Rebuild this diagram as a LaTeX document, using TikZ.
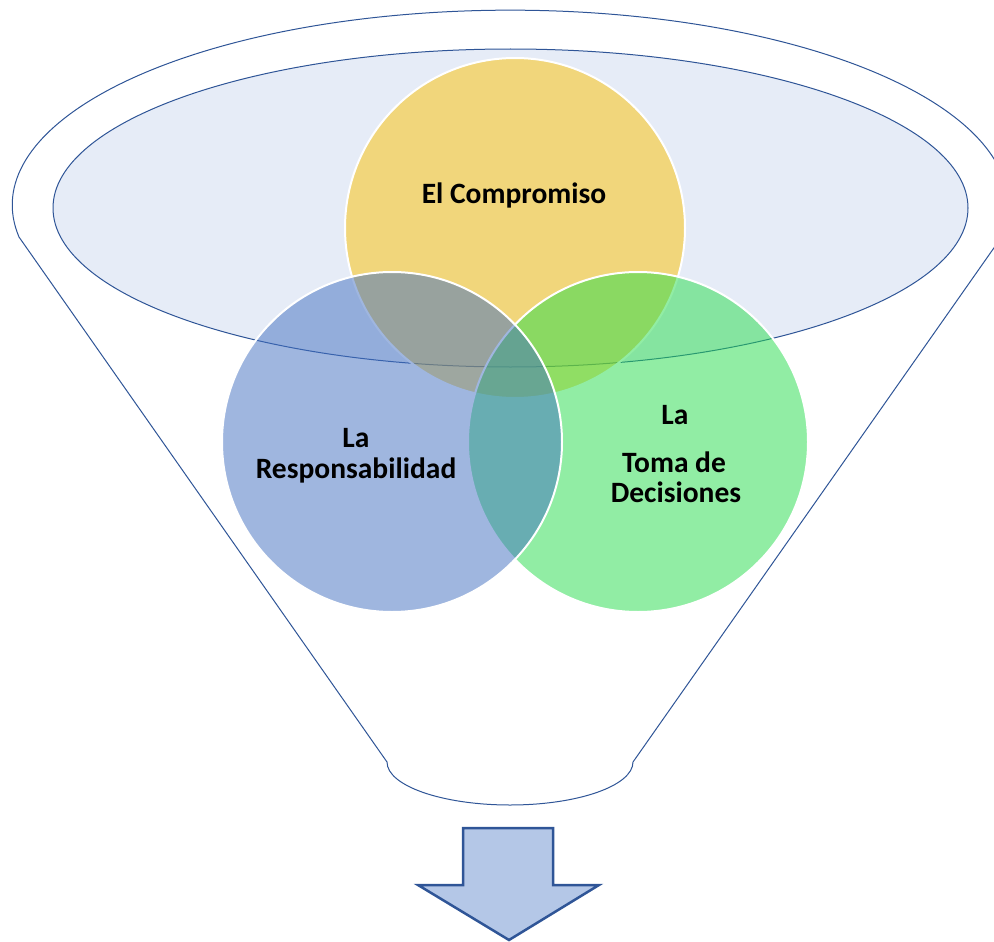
\documentclass[tikz,border=0pt]{standalone}
\usepackage{fontspec}
\setmainfont{Carlito}
\usetikzlibrary{shapes.geometric}
\definecolor{edge}{RGB}{47,85,151}
\definecolor{ellbg}{RGB}{230,236,247}
\definecolor{cyel}{RGB}{252,194,0}
\definecolor{cblue}{RGB}{65,111,193}
\definecolor{cgreen}{RGB}{37,221,75}
\definecolor{arrfill}{RGB}{180,199,231}
\tikzset{
  venn/.style={circle, minimum size=340pt, inner sep=0pt, draw=white, line width=2pt, fill opacity=0.5},
  lbl/.style={font=\bfseries\fontsize{29.5}{32}\selectfont, text=black, align=center, inner sep=0pt},
  funnelline/.style={draw=edge, line width=1pt},
}
\begin{document}
\begin{tikzpicture}[x=1pt,y=-1pt]
\useasboundingbox (0,0) rectangle (994,942);
% funnel outline
\coordinate (fl) at (19,237);
\coordinate (fr) at (1001,237);
\coordinate (bl) at (387,762);
\coordinate (br) at (633,762);
\path[funnelline, fill=white] (fl) arc[start angle=170.6, end angle=369.4, x radius=498, y radius=195]
  -- (br) arc[start angle=0, end angle=180, x radius=123, y radius=43] -- cycle;
% inner ellipse
\node[ellipse, draw=edge, line width=1pt, fill=ellbg, minimum width=915pt, minimum height=318pt, inner sep=0pt] (mouth) at (510.5,208) {};
% venn circles
\node[venn, fill=cyel] (yel) at (515,228) {};
\node[venn, fill=cgreen] (grn) at (638,442) {};
\node[venn, fill=cblue] (blu) at (392,442) {};
% labels
\node[lbl] (t1) at (514,195) {El Compromiso};
\node[lbl] (t2a) at (356,438) {La};
\node[lbl] (t2b) at (356,470) {Responsabilidad};
\node[lbl] (t3a) at (675,415) {La};
\node[lbl] (t3b) at (674,462) {Toma de};
\node[lbl] (t3c) at (676,492) {Decisiones};
% arrow
\draw[draw=edge, line width=2.5pt, fill=arrfill, line join=miter]
  (463,828) -- (553,828) -- (553,885) -- (599,885) -- (509,940) -- (418,885) -- (463,885) -- cycle;
\end{tikzpicture}
\end{document}
